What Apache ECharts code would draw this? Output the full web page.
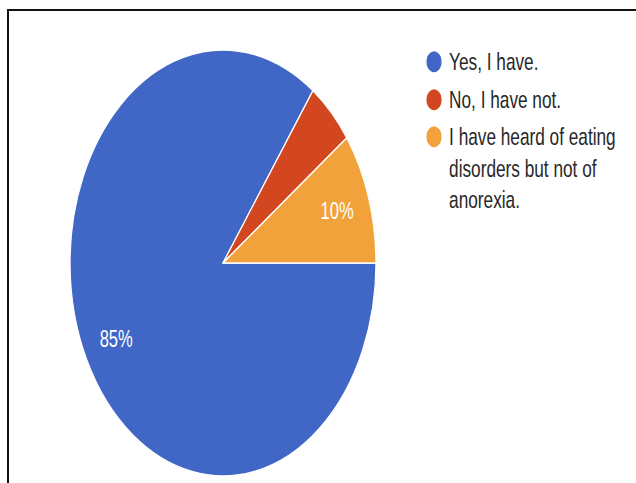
<!DOCTYPE html>
<html>
<head>
<meta charset="utf-8">
<script src="https://cdn.jsdelivr.net/npm/echarts@6/dist/echarts.min.js"></script>
<style>
  html, body { margin: 0; padding: 0; background: #fff; overflow: hidden; width: 636px; height: 483px; }
  #frame { position: absolute; left: 7px; top: 9px; width: 720px; height: 600px;
           border-left: 2px solid #111; border-top: 2px solid #111; }
  /* chart is laid out wide, then squeezed horizontally into the page */
  #chart { position: absolute; left: 0; top: 0; width: 886px; height: 483px;
           transform: scaleX(0.718); transform-origin: 0 0; }
</style>
</head>
<body>
<div id="frame"></div>
<div id="chart"></div>
<script>
const categories = [
  'Yes, I have.',
  'No, I have not.',
  'I have heard of eating disorders but not of anorexia.'
];
const shares = [85, 5, 10];
const legendText = [
  'Yes, I have.',
  'No, I have not.',
  '\n\nI have heard of eating\ndisorders but not of\nanorexia.'
];
const colors = ['#4066c6', '#d2471f', '#f1a23a'];

const FONT = '"Liberation Sans", Arial, sans-serif';
const CX = 310.6, CY = 263, R = 213;

const chart = echarts.init(document.getElementById('chart'), null, { renderer: 'svg' });

const slices = categories.map((name, i) => ({
  name: name,
  value: shares[i],
  itemStyle: { color: colors[i] }
}));

// one legend block per entry so each row sits exactly where it should
const legendTops = [46, 84, 58];
const legends = categories.map((name, i) => ({
  orient: 'vertical',
  left: 592,
  top: legendTops[i],
  padding: 0,
  itemWidth: 32,
  itemHeight: 23,
  icon: 'circle',
  selectedMode: false,
  data: [{ name: name, itemStyle: { color: colors[i] } }],
  formatter: () => legendText[i],
  textStyle: { fontFamily: FONT, fontSize: 24, color: '#282828', lineHeight: 31.5 }
}));

chart.setOption({
  animation: false,
  backgroundColor: 'transparent',
  legend: legends,
  series: [
    {
      type: 'pie',
      center: [CX, CY],
      radius: R,
      startAngle: 0,
      clockwise: true,
      silent: true,
      label: { show: false },
      labelLine: { show: false },
      itemStyle: { borderColor: '#fff', borderWidth: 1.6 },
      data: slices
    },
    {
      // percentage labels, placed toward the rim
      type: 'pie',
      center: [CX, CY],
      radius: [115, R],
      startAngle: 0,
      clockwise: true,
      silent: true,
      itemStyle: { color: 'rgba(0,0,0,0)' },
      label: {
        show: true,
        position: 'inside',
        color: '#fff',
        fontFamily: FONT,
        fontSize: 23,
        formatter: p => (p.percent >= 8 ? Math.round(p.percent) + '%' : '')
      },
      labelLine: { show: false },
      data: categories.map((name, i) => ({ name: name, value: shares[i] }))
    }
  ]
});
</script>
</body>
</html>
